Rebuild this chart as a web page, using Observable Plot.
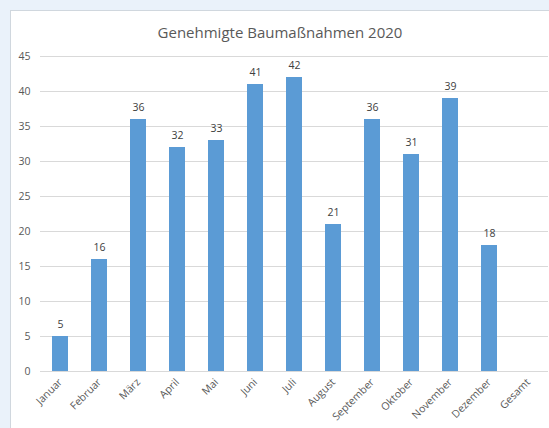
<!DOCTYPE html>
<html><head><meta charset="utf-8">
<script src="https://cdn.jsdelivr.net/npm/d3@7"></script>
<script src="https://cdn.jsdelivr.net/npm/@observablehq/plot@0.6"></script>
<style>
html,body{margin:0;padding:0;background:#EAF2FA;width:549px;height:428px;overflow:hidden;font-family:"Open Sans",sans-serif;}
#box{position:absolute;left:10px;top:10px;width:539px;height:418px;background:#fff;border-left:1px solid #D0D7DE;border-top:1px solid #D0D7DE;box-sizing:border-box;}
#title{position:absolute;left:0;top:11px;width:100%;text-align:center;font-size:15px;color:#595959;}
#chart{position:absolute;left:-1px;top:35px;}
</style></head><body>
<div id="box"><div id="title">Genehmigte Baumaßnahmen 2020</div><div id="chart"></div></div>
<script>
const months = ["Januar","Februar","März","April","Mai","Juni","Juli","August","September","Oktober","November","Dezember","Gesamt"];
const values = [5,16,36,32,33,41,42,21,36,31,39,18,null];
const yTicks = [0,5,10,15,20,25,30,35,40,45];
const data = months.map((m,i)=>({m, v: values[i]})).filter(d=>d.v!=null);
const chart = Plot.plot({
  width: 539, height: 382,
  marginLeft: 30, marginRight: 1, marginTop: 10, marginBottom: 57,
  style: {fontFamily: "Open Sans, sans-serif", fontSize: "10.5px", color: "#595959", background: "transparent"},
  x: {domain: months, paddingInner: 0.59, paddingOuter: 0.295, label: null, tickSize: 0, tickPadding: 9, tickRotate: -45},
  y: {domain: [0,45], ticks: yTicks, label: null, tickSize: 0, tickPadding: 10},
  marks: [
    Plot.gridY(yTicks, {stroke: "#D9D9D9", strokeOpacity: 1}),
    Plot.barY(data, {x: "m", y: "v", fill: "#5B9BD5"}),
    Plot.text(data, {x: "m", y: "v", text: d=>String(d.v), dy: -12, fill: "#404040", fontSize: 10.5})
  ]
});
document.getElementById("chart").appendChild(chart);
</script>
</body></html>
